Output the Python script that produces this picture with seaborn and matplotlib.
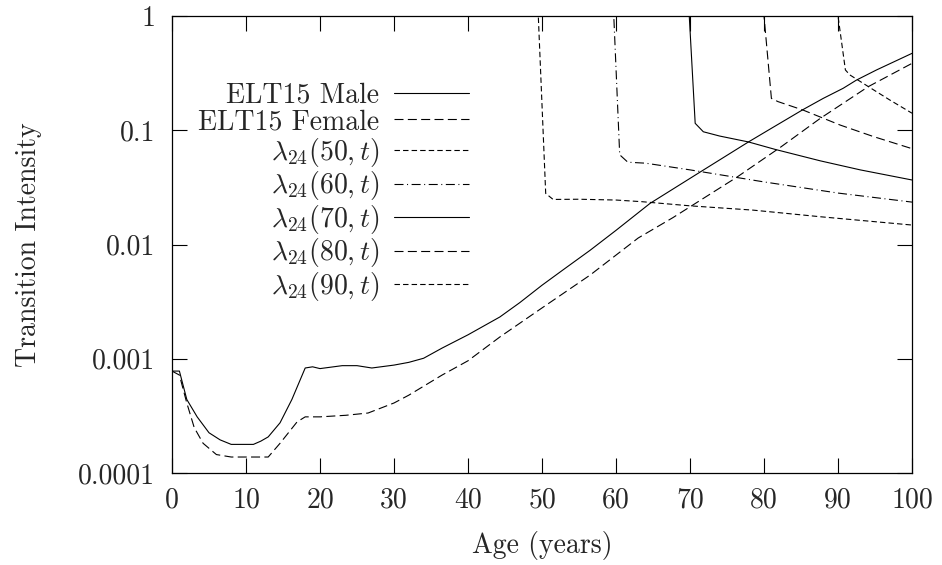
import matplotlib
matplotlib.use("Agg")
import matplotlib.pyplot as plt
import seaborn as sns
import pandas as pd
from matplotlib.ticker import NullLocator

# ---------------- data ----------------
male_age = [0, 1, 2, 3.4, 5, 6.5, 8, 11, 12, 13, 14.6, 16.2, 18, 19, 20, 23, 25, 27, 30, 32, 34,
            36.5, 40, 44.3, 47, 50, 53, 56.5, 60, 64.6, 71.6, 77.9, 81, 85.3, 88, 90.7, 92.5, 95.2, 100]
male = [0.00078, 0.00078, 0.00044, 0.00031, 0.000225, 0.000195, 0.000178, 0.000178, 0.00019, 0.000207,
        0.000275, 0.00044, 0.00083, 0.00085, 0.00082, 0.00087, 0.00087, 0.00083, 0.00088, 0.00093, 0.00101,
        0.00124, 0.00162, 0.00232, 0.0031, 0.0044, 0.0061, 0.0089, 0.0133, 0.0229, 0.044, 0.079, 0.104,
        0.152, 0.19, 0.233, 0.275, 0.337, 0.471]

female_age = [0, 1, 2, 3, 4.2, 6, 8, 13, 14.6, 16.9, 18, 20, 23.5, 26.5, 30, 32, 36.5, 40, 44.3,
              49.7, 56.5, 63, 67.7, 76.3, 82.2, 87.6, 94.1, 100]
female = [0.00078, 0.00072, 0.00041, 0.00025, 0.000182, 0.000145, 0.000138, 0.000138, 0.000182, 0.00028,
          0.00031, 0.00031, 0.00032, 0.000335, 0.00041, 0.00048, 0.00072, 0.00096, 0.00155,
          0.0027, 0.0054, 0.0114, 0.0172, 0.0387, 0.0708, 0.127, 0.241, 0.385]

lam50_age = [0, 49.5, 50.5, 51.5, 55, 60, 63.5, 70, 78.5, 87.6, 100]
lam50 = [1, 1, 0.028, 0.0248, 0.0249, 0.0245, 0.0237, 0.0218, 0.020, 0.0175, 0.0148]

lam60_age = [0, 59.7, 60.5, 61.6, 64, 70, 80, 90, 100]
lam60 = [1, 1, 0.061, 0.0525, 0.0515, 0.045, 0.0353, 0.0282, 0.0235]

lam70_age = [0, 69.9, 70.7, 71.8, 74, 77.9, 81.5, 87.6, 93, 100]
lam70 = [1, 1, 0.115, 0.097, 0.089, 0.079, 0.068, 0.054, 0.045, 0.0367]

lam80_age = [0, 80, 81.0, 81.9, 85.3, 90.3, 94.8, 100]
lam80 = [1, 1, 0.19, 0.178, 0.150, 0.111, 0.088, 0.069]

lam90_age = [0, 90, 91, 91.6, 94.1, 97, 100]
lam90 = [1, 1, 0.337, 0.305, 0.241, 0.184, 0.141]

series_names = ["ELT15 Male", "ELT15 Female",
                r"$\lambda_{24}(50,t)$", r"$\lambda_{24}(60,t)$", r"$\lambda_{24}(70,t)$",
                r"$\lambda_{24}(80,t)$", r"$\lambda_{24}(90,t)$"]
series_data = [(male_age, male), (female_age, female), (lam50_age, lam50), (lam60_age, lam60),
               (lam70_age, lam70), (lam80_age, lam80), (lam90_age, lam90)]

ytick_vals = [0.0001, 0.001, 0.01, 0.1, 1]
ytick_labels = ["0.0001", "0.001", "0.01", "0.1", "1"]
xtick_vals = list(range(0, 101, 10))

# ---------------- style ----------------
sns.set_style("ticks")
plt.rcParams["font.family"] = ["cmr10", "DejaVu Serif"]
plt.rcParams["mathtext.fontset"] = "cm"
plt.rcParams["axes.unicode_minus"] = False
plt.rcParams["font.size"] = 20

frames = []
for name, (a, v) in zip(series_names, series_data):
    frames.append(pd.DataFrame({"age": a, "value": v, "series": name}))
df = pd.concat(frames, ignore_index=True)

lw = 0.8
dashes = {
    series_names[0]: "",
    series_names[1]: (8.1, 3.9),
    series_names[2]: (4.9, 2.8),
    series_names[3]: (8.1, 3.2, 0.9, 3.2),
    series_names[4]: "",
    series_names[5]: (8.1, 3.9),
    series_names[6]: (4.9, 2.8),
}
palette = {n: "black" for n in series_names}

fig = plt.figure(figsize=(9.42, 5.65), dpi=100)
ax = fig.add_axes([172 / 942, 1 - 473 / 565, 740 / 942, 457 / 565])

sns.lineplot(data=df, x="age", y="value", hue="series", style="series",
             hue_order=series_names, style_order=series_names,
             palette=palette, dashes=dashes, estimator=None, sort=False,
             linewidth=lw, ax=ax, legend=True)

ax.set_yscale("log")
ax.set_xlim(0, 100)
ax.set_ylim(0.0001, 1)
ax.set_yticks(ytick_vals)
ax.set_yticklabels(ytick_labels)
ax.yaxis.set_minor_locator(NullLocator())
ax.set_xticks(xtick_vals)
ax.set_xticklabels([str(v) for v in xtick_vals])

ax.tick_params(axis="both", which="major", direction="in", length=11, width=0.8,
               top=True, right=True, labelsize=20, color="black")
ax.tick_params(axis="x", pad=10)
ax.tick_params(axis="y", pad=12)
for s in ax.spines.values():
    s.set_visible(True)
    s.set_linewidth(0.9)
    s.set_color("black")

ax.set_xlabel("Age (years)", fontsize=20, labelpad=13)
ax.set_ylabel("Transition Intensity", fontsize=20, labelpad=26)

handles, labels = ax.get_legend_handles_labels()
for h in handles:
    h.set_color("black")
    h.set_linewidth(lw)
leg = ax.legend(handles, labels, markerfirst=False, frameon=False, fontsize=20,
                handlelength=2.7, handletextpad=0.55, labelspacing=0.02,
                loc="upper right", bbox_to_anchor=(0.417, 0.88), borderaxespad=0)

fig.savefig("out.png", dpi=100)
